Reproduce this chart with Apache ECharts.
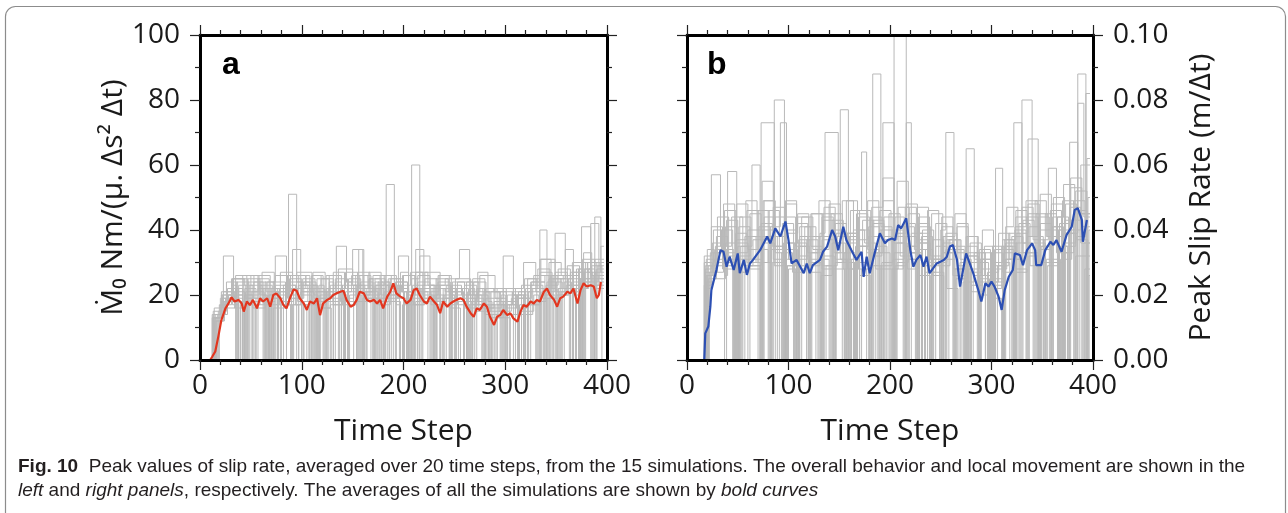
<!DOCTYPE html>
<html>
<head>
<meta charset="utf-8">
<script src="https://cdn.jsdelivr.net/npm/echarts@6/dist/echarts.min.js"></script>
<style>
html, body { margin: 0; padding: 0; background: #fff; }
#wrap { position: relative; width: 1288px; height: 513px; }
#plot, #frame { position: absolute; left: 0; top: 0; width: 1288px; height: 513px; }
</style>
</head>
<body>
<div id="wrap">
  <div id="plot"></div>
  <div id="frame"></div>
</div>
<script>
// tick labels
var xTicks = ['0', '100', '200', '300', '400'];
var yTicksA = ['0', '20', '40', '60', '80', '100'];
var yTicksB = ['0.00', '0.02', '0.04', '0.06', '0.08', '0.10'];

// panel a: average moment rate (bold red), [time step, value]
var avgA = [[0,0],[10,0],[12,1],[15,2.6],[18,7.2],[21,12.3],[25,15.9],[28,17.4],[31,19.3],[34,18],[38,18.5],[41,17.4],[43,14.9],[46,18],[49,16.9],[52,18.5],[56,15.9],[59,19],[62,18],[66,19],[69,16.4],[72,20],[75,20.5],[79,19],[82,16.9],[85,15.9],[89,19.5],[92,21.7],[95,21.3],[98,19],[102,17.4],[105,15.4],[108,18],[112,17.4],[115,19],[118,13.8],[121,17.4],[125,18.5],[128,19],[131,20],[134,20.5],[138,21],[141,21.3],[144,18.5],[148,16.4],[151,16.9],[154,18.5],[157,21],[161,20.5],[164,18.5],[167,18],[171,18.5],[174,17.4],[177,18.5],[180,15.9],[184,19.5],[187,21],[190,23.6],[193,20.5],[197,19.5],[200,19],[203,17.4],[207,18.5],[210,21.5],[213,22],[216,20],[220,18],[223,17.4],[226,19.5],[230,18],[233,16.9],[236,14.4],[239,18],[243,16.4],[246,17.4],[249,18],[252,18.5],[256,19],[259,18.5],[262,16.4],[266,14.4],[269,13.3],[272,15.9],[275,15.4],[279,17.4],[282,16.4],[285,13.3],[289,10.8],[292,13.3],[295,13.8],[298,15.4],[302,13.8],[305,14.4],[308,12.8],[312,11.8],[315,14.9],[318,16.9],[321,16.4],[325,18],[328,17.4],[331,18.5],[334,18],[338,21],[341,22],[344,20],[348,18.5],[351,16.4],[354,19],[357,19.5],[361,21],[364,20.5],[367,22],[371,17.4],[374,21.5],[377,23.6],[380,22.6],[384,23],[387,22.6],[390,19],[392,20],[394,24]];

// panel b: average peak slip rate (bold blue), [time step, m/dt]
var avgB = [[0,0],[17,0],[18,0.0082],[21,0.0103],[23,0.0164],[24,0.0215],[29,0.0277],[33,0.0338],[36,0.0333],[39,0.0287],[42,0.0318],[46,0.0277],[50,0.0328],[52,0.0267],[56,0.0308],[59,0.0262],[62,0.0297],[65,0.0308],[72,0.0338],[79,0.038],[82,0.0359],[87,0.0405],[92,0.038],[97,0.0426],[100,0.0369],[103,0.0297],[108,0.0308],[115,0.0267],[118,0.0297],[121,0.0267],[124,0.0292],[131,0.0308],[134,0.0333],[138,0.0349],[143,0.04],[146,0.038],[149,0.0338],[154,0.041],[157,0.0369],[162,0.0338],[167,0.0308],[172,0.0333],[174,0.0256],[177,0.0318],[180,0.0267],[184,0.0318],[190,0.039],[195,0.0359],[198,0.0369],[202,0.0374],[205,0.0369],[208,0.0415],[211,0.0405],[216,0.0436],[220,0.0338],[223,0.0287],[226,0.0308],[230,0.0323],[233,0.0287],[236,0.0318],[239,0.0267],[246,0.0297],[253,0.0308],[256,0.0318],[259,0.0349],[262,0.0354],[266,0.0308],[269,0.0226],[275,0.0328],[282,0.0267],[287,0.0215],[290,0.018],[294,0.0236],[297,0.0226],[300,0.0241],[303,0.0226],[307,0.0195],[310,0.0154],[313,0.0215],[317,0.0256],[321,0.0277],[323,0.0328],[328,0.0323],[331,0.0292],[335,0.0338],[340,0.0359],[343,0.0338],[344,0.0292],[349,0.0292],[353,0.0338],[358,0.0364],[361,0.0354],[364,0.0369],[369,0.0333],[374,0.0385],[379,0.041],[382,0.0462],[385,0.0467],[389,0.0431],[390,0.0364],[394,0.0431]];

// panel a: 15 simulations, step curves [start step, value held until next point]
var simA = [
  [[0,0],[12,13],[20,19],[31,25],[44,23],[52,0],[55,17],[66,24],[74,32],[85,22],[96,18],[100,0],[102,18],[110,26],[121,0],[124,20],[134,35],[144,24],[156,21],[160,0],[162,21],[170,26],[182,18],[193,0],[196,23],[207,27],[219,20],[228,0],[230,20],[234,26],[245,16],[256,0],[259,19],[271,15],[286,17],[290,0],[292,17],[298,22],[310,0],[313,19],[325,24],[339,26],[345,0],[347,26],[351,21],[363,0],[366,27],[378,23],[392,26],[397,26]],
  [[0,0],[13,14],[19,17],[28,20],[35,0],[37,20],[42,26],[53,19],[64,0],[67,22],[78,18],[87,51],[95,24],[108,21],[112,0],[114,21],[119,16],[129,0],[131,27],[142,22],[156,34],[161,19],[175,24],[180,0],[182,24],[186,20],[197,27],[205,0],[208,22],[220,18],[234,24],[246,20],[250,0],[252,20],[260,23],[272,17],[284,0],[287,14],[298,18],[312,20],[316,0],[318,20],[323,17],[334,40],[341,0],[343,25],[355,22],[370,28],[376,0],[378,28],[384,42],[392,24],[397,24]],
  [[0,0],[14,12],[23,32],[33,18],[38,0],[40,18],[45,21],[57,25],[68,0],[71,19],[82,23],[94,17],[100,0],[102,17],[108,22],[119,25],[131,18],[137,0],[139,18],[145,22],[157,26],[168,0],[171,19],[183,23],[190,0],[192,23],[198,21],[210,17],[221,25],[233,0],[236,22],[248,18],[262,20],[266,0],[268,20],[274,16],[289,19],[301,14],[313,0],[316,23],[328,26],[343,21],[349,39],[359,20],[364,0],[366,20],[373,24],[385,29],[395,0],[397,0]],
  [[0,0],[15,14],[22,20],[34,16],[45,0],[47,24],[59,20],[65,0],[67,20],[74,26],[86,21],[91,34],[99,20],[110,0],[113,17],[124,21],[136,28],[150,23],[154,0],[156,23],[162,20],[177,26],[188,22],[200,0],[203,19],[214,24],[226,20],[230,0],[232,20],[240,17],[252,22],[264,0],[267,18],[279,21],[284,0],[286,21],[294,15],[306,19],[320,22],[332,28],[344,0],[347,25],[359,34],[367,22],[372,0],[374,22],[381,30],[393,25],[397,25]],
  [[0,0],[16,13],[24,18],[35,22],[42,0],[44,22],[50,18],[61,27],[73,0],[76,20],[88,25],[100,17],[105,0],[107,17],[115,25],[127,19],[139,0],[142,24],[150,34],[160,21],[175,17],[180,0],[182,17],[187,25],[199,21],[211,0],[214,26],[226,22],[241,19],[245,0],[247,19],[253,24],[268,17],[280,14],[292,0],[295,21],[307,17],[312,0],[314,17],[322,25],[334,22],[338,0],[340,22],[349,27],[361,23],[373,0],[375,41],[384,26],[397,26]],
  [[0,0],[13,15],[21,21],[32,17],[38,0],[40,17],[46,26],[58,22],[70,0],[72,16],[84,20],[95,27],[110,23],[115,0],[117,23],[122,18],[137,21],[141,0],[143,21],[149,26],[161,0],[164,22],[176,18],[183,54],[191,22],[205,18],[210,0],[212,18],[217,22],[229,0],[232,25],[244,21],[259,16],[271,20],[283,0],[286,13],[298,17],[302,0],[304,17],[313,21],[325,18],[330,0],[332,18],[340,23],[352,28],[364,0],[367,24],[379,30],[388,44],[394,27],[397,27]],
  [[0,0],[17,14],[25,19],[36,24],[48,0],[51,21],[63,17],[68,0],[70,17],[78,22],[90,19],[102,24],[114,0],[117,16],[128,23],[140,20],[145,0],[147,20],[155,27],[167,22],[172,0],[174,22],[182,19],[195,32],[205,20],[216,0],[219,23],[231,19],[236,0],[238,19],[246,22],[258,18],[273,21],[285,15],[297,0],[300,18],[312,14],[318,0],[320,14],[327,22],[339,19],[351,0],[354,25],[366,30],[381,27],[386,0],[388,27],[394,35],[397,35]],
  [[0,0],[14,16],[22,19],[33,25],[47,17],[52,0],[54,17],[59,23],[71,19],[82,0],[85,26],[97,22],[112,20],[116,0],[118,20],[124,26],[136,0],[139,19],[151,23],[166,25],[170,0],[172,25],[178,20],[193,24],[204,19],[208,60],[216,21],[227,0],[230,18],[242,23],[246,0],[248,23],[257,20],[269,24],[281,0],[284,16],[296,20],[300,0],[302,20],[311,16],[323,21],[335,0],[338,19],[350,24],[356,0],[358,24],[365,21],[377,33],[385,25],[397,25]],
  [[0,0],[12,14],[20,17],[31,23],[36,0],[38,23],[45,19],[57,26],[69,0],[72,24],[84,17],[89,0],[91,17],[99,21],[111,27],[123,0],[126,22],[138,18],[143,0],[145,18],[153,26],[165,22],[180,18],[184,0],[186,18],[192,24],[204,0],[207,20],[212,34],[220,19],[235,26],[247,21],[259,0],[262,24],[274,19],[279,0],[281,19],[289,22],[301,18],[313,0],[316,15],[328,20],[333,0],[335,20],[343,30],[355,26],[367,0],[370,22],[382,28],[388,0],[390,28],[397,28]],
  [[0,0],[15,13],[23,21],[34,18],[46,0],[49,23],[61,20],[66,0],[68,20],[76,17],[88,24],[100,21],[112,0],[115,19],[127,24],[131,0],[133,24],[139,17],[154,22],[166,27],[178,0],[181,21],[193,17],[197,0],[199,17],[208,25],[216,32],[226,22],[241,21],[245,0],[247,21],[253,17],[265,0],[268,25],[280,21],[295,17],[299,0],[301,17],[307,21],[319,0],[322,18],[334,31],[349,21],[353,0],[355,21],[361,26],[373,0],[376,31],[388,23],[397,23]],
  [[0,0],[18,15],[26,24],[37,20],[42,0],[44,20],[52,16],[64,22],[76,0],[79,27],[91,23],[95,0],[97,23],[106,18],[118,22],[122,0],[124,22],[133,25],[145,21],[157,0],[160,19],[172,24],[176,0],[178,24],[187,22],[199,26],[211,0],[214,19],[226,23],[230,0],[232,23],[241,25],[255,34],[265,20],[277,0],[280,22],[292,17],[296,0],[298,17],[307,20],[319,25],[331,0],[334,27],[346,22],[350,0],[352,22],[361,29],[373,25],[385,0],[388,31],[397,31]],
  [[0,0],[16,12],[24,16],[35,26],[50,22],[55,0],[57,22],[62,18],[74,0],[77,21],[89,26],[104,23],[108,0],[110,23],[116,18],[131,22],[143,27],[155,0],[158,24],[170,19],[174,0],[176,19],[185,25],[197,21],[201,0],[203,21],[212,27],[224,23],[236,0],[239,20],[251,25],[266,19],[273,27],[283,18],[287,0],[289,18],[298,14],[310,19],[322,0],[325,23],[337,19],[341,0],[343,19],[352,22],[364,27],[376,0],[379,24],[391,29],[397,29]],
  [[0,0],[14,13],[21,18],[32,21],[44,0],[47,25],[59,18],[63,0],[65,18],[74,23],[86,19],[90,0],[92,19],[101,25],[113,21],[125,0],[128,17],[140,23],[155,20],[159,0],[161,20],[167,25],[182,23],[186,0],[188,23],[194,19],[206,0],[209,23],[221,27],[236,19],[240,0],[242,19],[248,24],[260,0],[263,21],[275,26],[290,19],[298,32],[308,20],[320,0],[323,17],[335,24],[339,0],[341,24],[350,20],[362,25],[374,0],[377,27],[389,22],[397,22]],
  [[0,0],[19,14],[27,22],[38,19],[42,0],[44,19],[53,24],[65,21],[77,0],[80,18],[92,22],[104,26],[108,0],[110,26],[119,21],[131,17],[143,0],[146,25],[158,21],[162,0],[164,21],[173,23],[185,18],[197,0],[200,26],[212,22],[216,0],[218,22],[227,17],[239,22],[251,0],[254,18],[266,22],[270,0],[272,22],[281,17],[293,13],[305,0],[308,22],[318,30],[330,21],[334,0],[336,21],[345,26],[357,22],[369,0],[372,25],[384,30],[388,0],[390,30],[397,30]],
  [[0,0],[13,13],[21,20],[32,25],[43,0],[46,20],[58,24],[62,0],[64,24],[73,21],[85,17],[97,0],[100,23],[112,19],[116,0],[118,19],[127,26],[139,22],[151,0],[154,18],[166,23],[170,0],[172,23],[181,26],[193,22],[205,0],[208,17],[220,21],[224,0],[226,21],[235,23],[247,19],[259,0],[262,17],[274,22],[278,0],[280,22],[289,21],[301,16],[313,0],[316,19],[326,24],[335,31],[345,20],[349,0],[351,20],[360,23],[372,28],[384,0],[387,26],[397,26]]
];

// panel b: 15 simulations, peak slip rate in units of 0.001 m/dt
var simB = [
  [[0,0],[18,28],[24,57],[33,35],[44,44],[55,0],[57,38],[68,30],[80,46],[91,0],[93,33],[104,27],[116,41],[127,0],[129,34],[140,48],[151,31],[162,0],[164,40],[175,36],[186,28],[197,0],[199,45],[210,32],[221,39],[232,0],[234,27],[245,35],[256,22],[267,0],[269,30],[280,21],[291,40],[302,0],[304,28],[315,47],[326,33],[336,68],[346,0],[348,42],[359,30],[370,49],[381,0],[383,32],[397,32]],
  [[0,0],[19,24],[26,31],[37,26],[40,58],[49,36],[60,0],[62,29],[73,42],[84,35],[95,0],[97,49],[108,31],[119,38],[130,0],[132,26],[143,43],[154,30],[165,0],[167,37],[178,49],[189,33],[200,0],[202,28],[213,41],[224,34],[235,0],[237,46],[248,29],[259,37],[270,0],[272,24],[283,33],[294,0],[296,27],[307,39],[318,31],[329,0],[331,43],[342,36],[353,0],[355,29],[366,40],[377,67],[385,0],[387,45],[397,45]],
  [[0,0],[17,30],[25,27],[36,48],[47,0],[49,33],[60,40],[73,73],[86,38],[97,0],[99,29],[110,35],[121,0],[123,45],[134,32],[145,0],[147,39],[158,28],[169,44],[180,0],[182,33],[193,49],[204,0],[206,36],[217,28],[228,42],[239,0],[241,31],[252,38],[263,0],[265,25],[276,32],[287,0],[289,20],[300,29],[311,0],[313,37],[324,44],[335,0],[337,32],[348,51],[359,38],[370,0],[372,43],[385,88],[393,0],[395,50],[397,50]],
  [[0,0],[20,26],[28,34],[39,29],[50,0],[52,44],[63,31],[74,38],[86,80],[96,0],[98,36],[109,44],[120,30],[131,0],[133,37],[144,28],[155,0],[157,49],[168,35],[179,41],[190,0],[192,30],[203,44],[214,0],[216,35],[227,47],[238,29],[249,0],[251,33],[262,26],[273,0],[275,38],[286,30],[297,0],[299,22],[310,35],[321,0],[323,41],[334,49],[345,0],[347,34],[358,46],[369,0],[371,39],[385,79],[391,44],[397,44]],
  [[0,0],[18,22],[23,33],[34,40],[45,0],[47,27],[58,49],[69,34],[80,0],[82,41],[92,73],[98,31],[109,0],[111,38],[122,45],[133,29],[144,0],[146,33],[157,39],[168,0],[170,46],[181,32],[192,40],[203,0],[205,29],[216,48],[227,0],[229,36],[240,31],[251,44],[262,0],[264,28],[275,35],[286,0],[288,26],[299,19],[310,0],[312,33],[323,40],[334,0],[336,48],[347,35],[358,0],[360,44],[371,54],[382,0],[384,38],[393,82],[397,82]],
  [[0,0],[21,25],[29,38],[40,31],[51,0],[53,35],[64,60],[72,37],[83,0],[85,44],[96,29],[107,36],[118,0],[120,31],[131,39],[136,70],[149,38],[160,0],[162,30],[173,43],[184,0],[186,35],[197,28],[208,47],[219,0],[221,33],[232,40],[243,0],[245,30],[256,37],[267,29],[278,0],[280,23],[291,31],[302,0],[304,59],[311,34],[322,0],[324,27],[335,38],[346,44],[357,0],[359,40],[370,33],[381,49],[392,0],[394,62],[397,62]],
  [[0,0],[19,31],[27,25],[38,36],[49,0],[51,41],[62,28],[73,0],[75,49],[86,35],[97,40],[108,0],[110,32],[121,27],[132,0],[134,45],[145,33],[151,77],[159,36],[170,0],[172,28],[183,42],[194,0],[196,37],[207,55],[218,31],[229,0],[231,38],[242,26],[253,0],[255,34],[266,41],[277,0],[279,27],[290,33],[301,0],[303,24],[314,36],[325,0],[327,42],[338,29],[349,0],[351,37],[356,59],[364,33],[375,0],[377,47],[388,36],[397,36]],
  [[0,0],[17,23],[24,29],[35,34],[46,0],[48,39],[59,30],[70,46],[81,0],[83,34],[94,42],[105,0],[107,28],[118,37],[129,31],[140,0],[142,40],[153,49],[164,0],[166,35],[177,29],[183,88],[191,41],[202,0],[204,33],[215,38],[226,0],[228,44],[239,30],[250,0],[252,36],[263,28],[274,0],[276,32],[287,25],[298,0],[300,30],[311,37],[322,0],[324,46],[335,33],[346,0],[348,40],[359,48],[370,0],[372,35],[383,52],[394,0],[396,40],[397,40]],
  [[0,0],[22,27],[30,44],[41,32],[52,0],[54,29],[65,37],[76,49],[87,0],[89,38],[100,31],[111,0],[113,44],[124,34],[135,0],[137,29],[148,38],[159,0],[161,46],[172,64],[177,33],[188,0],[190,40],[193,73],[204,36],[215,0],[217,31],[228,39],[239,0],[241,45],[252,33],[263,0],[265,28],[276,38],[287,0],[289,31],[300,23],[311,0],[313,35],[324,28],[335,0],[337,41],[348,34],[359,0],[361,50],[372,39],[383,0],[385,45],[397,45]],
  [[0,0],[18,29],[26,40],[37,0],[39,33],[50,27],[61,38],[72,0],[74,55],[85,31],[96,0],[98,39],[109,45],[120,0],[122,33],[133,28],[144,0],[146,42],[157,37],[168,0],[170,30],[181,44],[192,0],[194,38],[204,100],[216,35],[227,0],[229,41],[240,32],[251,0],[253,38],[264,45],[275,0],[277,28],[288,34],[299,0],[301,25],[312,31],[323,0],[325,39],[336,45],[347,0],[349,35],[360,41],[371,0],[373,48],[384,37],[395,0],[397,0]],
  [[0,0],[20,34],[27,30],[38,41],[49,0],[51,32],[62,45],[73,0],[75,36],[86,29],[97,48],[108,0],[110,37],[121,30],[132,0],[134,43],[145,36],[156,0],[158,31],[169,40],[180,0],[182,47],[193,56],[204,0],[206,39],[216,73],[221,33],[232,0],[234,29],[245,42],[256,0],[258,37],[269,31],[280,0],[282,26],[293,35],[304,0],[306,29],[317,39],[328,0],[330,47],[341,37],[352,0],[354,31],[365,44],[376,0],[378,53],[389,41],[397,41]],
  [[0,0],[19,26],[25,36],[36,30],[47,0],[49,48],[60,34],[71,41],[82,0],[84,30],[95,36],[106,0],[108,42],[119,33],[130,49],[141,0],[143,36],[154,28],[165,0],[167,45],[178,34],[189,0],[191,29],[202,40],[213,0],[215,47],[226,36],[237,0],[239,31],[250,40],[255,70],[263,35],[274,0],[276,30],[287,24],[298,0],[300,33],[311,27],[322,0],[324,36],[335,44],[346,0],[348,30],[359,41],[370,0],[372,36],[383,46],[394,0],[396,26],[397,26]],
  [[0,0],[17,32],[24,41],[35,28],[46,0],[48,37],[59,46],[70,0],[72,30],[83,38],[94,0],[96,44],[107,35],[118,0],[120,29],[131,38],[142,45],[153,0],[155,33],[166,28],[177,0],[179,38],[190,46],[201,0],[203,31],[214,42],[225,0],[227,37],[238,30],[249,0],[251,41],[262,34],[273,0],[275,65],[283,31],[294,0],[296,24],[307,30],[318,0],[320,38],[331,33],[342,0],[344,45],[355,38],[366,0],[368,31],[379,43],[390,0],[392,28],[397,28]],
  [[0,0],[21,29],[28,35],[39,43],[50,0],[52,31],[63,38],[74,0],[76,44],[87,33],[98,0],[100,28],[111,41],[122,35],[133,0],[135,47],[146,31],[157,0],[159,38],[170,26],[181,0],[183,43],[194,37],[205,0],[207,30],[218,45],[229,0],[231,34],[242,27],[253,0],[255,39],[266,33],[277,0],[279,36],[290,26],[301,0],[303,34],[314,41],[322,73],[330,36],[341,0],[343,49],[354,38],[365,0],[367,42],[378,56],[389,0],[391,36],[397,36]],
  [[0,0],[18,27],[26,33],[37,46],[48,0],[50,35],[61,29],[72,0],[74,40],[85,47],[96,0],[98,34],[109,29],[120,0],[122,38],[133,44],[144,0],[146,30],[157,39],[168,0],[170,35],[181,29],[192,0],[194,44],[205,38],[216,0],[218,33],[229,26],[240,0],[242,37],[253,31],[264,0],[266,42],[277,33],[288,0],[290,28],[301,35],[312,0],[314,31],[330,80],[340,38],[351,0],[353,45],[364,35],[375,0],[377,40],[388,60],[397,60]]
];

var FONT = "'Open Sans', 'Noto Sans', 'DejaVu Sans', sans-serif";
var NARROW = "'Liberation Sans Narrow', 'Liberation Sans', sans-serif";

function makeGrids() {
  return [
    { left: 200, top: 35, width: 407, height: 325 },
    { left: 687, top: 35, width: 406, height: 325 }
  ];
}

// axis specs shared by the curve layer and the frame layer
var xSpecs = [
  { grid: 0, position: 'bottom', min: 0, max: 400, interval: 100, minor: 5, labels: xTicks, margin: 12, name: 'Time Step', nameGap: 56 },
  { grid: 0, position: 'top', min: 0, max: 400, interval: 100, minor: 5 },
  { grid: 1, position: 'bottom', min: 0, max: 400, interval: 100, minor: 5, labels: xTicks, margin: 12, name: 'Time Step', nameGap: 56 },
  { grid: 1, position: 'top', min: 0, max: 400, interval: 100, minor: 5 }
];
var ySpecs = [
  { grid: 0, position: 'left', min: 0, max: 100, interval: 20, minor: 2, labels: yTicksA, margin: 20, name: 'Ṁ₀ Nm/(μ. Δs² Δt)', nameGap: 52, nameRotate: 90 },
  { grid: 0, position: 'right', min: 0, max: 100, interval: 20, minor: 2 },
  { grid: 1, position: 'left', min: 0, max: 0.1, interval: 0.02, minor: 2 },
  { grid: 1, position: 'right', min: 0, max: 0.1, interval: 0.02, minor: 2, labels: yTicksB, margin: 20, name: 'Peak Slip Rate (m/Δt)', nameGap: 93, nameRotate: 90 }
];

function makeAxis(opt, visible) {
  var ax = {
    type: 'value',
    gridIndex: opt.grid,
    position: opt.position,
    min: opt.min,
    max: opt.max,
    interval: opt.interval,
    axisLine: { show: visible, onZero: false, lineStyle: { color: '#000', width: 3 } },
    axisTick: { show: visible, inside: false, length: 10, lineStyle: { color: '#222', width: 1.2 } },
    minorTick: { show: visible, splitNumber: opt.minor, length: 5, lineStyle: { color: '#222', width: 1.2 } },
    splitLine: { show: false },
    axisLabel: { show: false }
  };
  if (visible && opt.labels) {
    ax.axisLabel = {
      show: true,
      fontFamily: FONT,
      fontSize: 28,
      color: '#1a1a1a',
      margin: opt.margin,
      formatter: function (v, i) { return opt.labels[i]; }
    };
  }
  if (visible && opt.name) {
    ax.name = opt.name;
    ax.nameLocation = 'middle';
    ax.nameGap = opt.nameGap;
    ax.nameRotate = opt.nameRotate;
    ax.nameTextStyle = { fontFamily: FONT, fontSize: 30, color: '#1a1a1a' };
  }
  return ax;
}

function simSeries(list, xi, yi, unit) {
  return list.map(function (d) {
    return {
      type: 'line',
      step: 'end',
      xAxisIndex: xi,
      yAxisIndex: yi,
      symbol: 'none',
      silent: true,
      z: 2,
      lineStyle: { color: '#b9b9b9', width: 1 },
      data: d.map(function (p) { return [p[0], p[1] * unit]; })
    };
  });
}

var series = []
  .concat(simSeries(simA, 0, 0, 1))
  .concat(simSeries(simB, 2, 3, 0.001));

series.push({
  type: 'line', xAxisIndex: 0, yAxisIndex: 0, symbol: 'none', silent: true, z: 5,
  lineStyle: { color: '#e2361f', width: 2.2 }, data: avgA
});
series.push({
  type: 'line', xAxisIndex: 2, yAxisIndex: 3, symbol: 'none', silent: true, z: 5,
  lineStyle: { color: '#2c4fb3', width: 2.2 }, data: avgB
});

// curve layer: simulations, averages, panel letters, border and caption
var plot = echarts.init(document.getElementById('plot'));
plot.setOption({
  animation: false,
  backgroundColor: '#fff',
  grid: makeGrids(),
  xAxis: xSpecs.map(function (s) { return makeAxis(s, false); }),
  yAxis: ySpecs.map(function (s) { return makeAxis(s, false); }),
  series: series,
  graphic: [
    {
      type: 'rect', silent: true, z: -10,
      shape: { x: 5.5, y: 6.5, width: 1280, height: 530, r: 10 },
      style: { fill: 'none', stroke: '#8c8c8c', lineWidth: 1.2 }
    },
    { type: 'text', left: 222, top: 49, style: { text: 'a', fontFamily: NARROW, fontWeight: 'bold', fontSize: 32, fill: '#000' } },
    { type: 'text', left: 707, top: 49, style: { text: 'b', fontFamily: NARROW, fontWeight: 'bold', fontSize: 32, fill: '#000' } },
    {
      type: 'text', left: 18, top: 457,
      style: {
        text: '{b|Fig. 10}  Peak values of slip rate, averaged over 20 time steps, from the 15 simulations. The overall behavior and local movement are shown in the',
        fontFamily: NARROW, fontSize: 19, fill: '#231f20',
        rich: { b: { fontFamily: NARROW, fontSize: 19, fontWeight: 'bold', fill: '#231f20' } }
      }
    },
    {
      type: 'text', left: 18, top: 481,
      style: {
        text: '{i|left} and {i|right panels}, respectively. The averages of all the simulations are shown by {i|bold curves}',
        fontFamily: NARROW, fontSize: 19, fill: '#231f20',
        rich: { i: { fontFamily: NARROW, fontSize: 19, fontStyle: 'italic', fill: '#231f20' } }
      }
    }
  ]
});

// frame layer on top: box, ticks, tick labels and axis titles only
var frameOption = function () {
  return {
    animation: false,
    backgroundColor: 'transparent',
    grid: makeGrids(),
    xAxis: xSpecs.map(function (s) { return makeAxis(s, true); }),
    yAxis: ySpecs.map(function (s) { return makeAxis(s, true); }),
    series: []
  };
};
var frame = echarts.init(document.getElementById('frame'));
frame.setOption(frameOption());
// second pass so the tick layout is settled
frame.setOption(frameOption(), true);
</script>
</body>
</html>
